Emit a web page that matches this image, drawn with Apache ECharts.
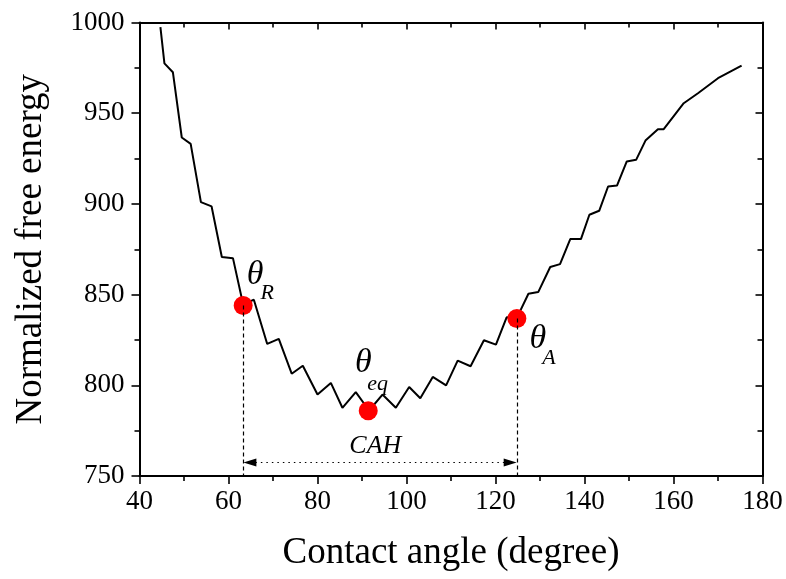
<!DOCTYPE html>
<html>
<head>
<meta charset="utf-8">
<script src="https://cdn.jsdelivr.net/npm/echarts@6/dist/echarts.min.js"></script>
<style>
  html, body { margin: 0; padding: 0; background: #fff; }
  #chart { width: 786px; height: 579px; }
</style>
</head>
<body>
<div id="chart"></div>
<script>
// Free-energy profile of a drop vs. contact angle
const angle = [
  44.7, 45.6, 47.5, 49.5, 51.5, 53.8, 56.2, 58.5, 61.0, 63.3,
  65.7, 68.7, 71.3, 74.2, 76.7, 80.0, 83.0, 85.6, 88.6, 91.6,
  94.6, 97.6, 100.6, 103.1, 105.9, 108.9, 111.5, 114.4, 117.4, 120.1,
  122.5, 124.8, 127.4, 129.6, 132.3, 134.5, 136.8, 139.2, 141.1, 143.3,
  145.3, 147.3, 149.5, 151.6, 153.7, 156.5, 157.8, 162.3, 165.5, 170.0,
  175.3
];
const energy = [
  997.4, 977.5, 972.6, 936.6, 933.1, 901.0, 898.6, 870.7, 870.1, 844.4,
  847.2, 822.8, 825.6, 806.4, 810.8, 794.9, 801.3, 787.6, 796.2, 786.1,
  794.9, 787.6, 799.1, 792.9, 804.6, 800.0, 813.6, 810.5, 824.8, 822.4,
  837.5, 837.2, 850.5, 851.4, 865.2, 866.8, 880.6, 880.6, 894.0, 896.2,
  909.6, 910.1, 923.4, 924.3, 934.9, 941.2, 941.2, 955.5, 961.0, 969.3,
  976.2
];

// Receding, equilibrium and advancing angles
const keyAngle = [63.3, 91.4, 124.8];
const keyEnergy = [844.0, 786.0, 836.8];
const keyName = ['R', 'eq', 'A'];

// Hysteresis arrow level
const cahLevel = 757.4;

// Axis ranges and tick steps
const xRange = [40, 180], xStep = 20;
const yRange = [750, 1000], yStep = 50;

const FONT = 'Liberation Serif, Times New Roman, serif';

const chart = echarts.init(document.getElementById('chart'), null, { renderer: 'canvas' });

const axisLineStyle = { color: '#000', width: 2 };
const tickStyle = { color: '#000', width: 1.6 };

function mirrorAxis(extra) {
  return Object.assign({
    type: 'value',
    axisLine: { show: true, onZero: false, lineStyle: axisLineStyle },
    axisTick: { show: true, inside: true, length: 7, lineStyle: tickStyle },
    minorTick: { show: true, splitNumber: 2, length: 5, lineStyle: tickStyle },
    axisLabel: { show: false },
    splitLine: { show: false },
    minorSplitLine: { show: false }
  }, extra);
}

const plainNum = v => String(v);

const option = {
  animation: false,
  backgroundColor: '#fff',
  grid: { left: 139.5, right: 23.5, top: 22.5, bottom: 103 },
  xAxis: [
    {
      type: 'value',
      position: 'bottom',
      min: xRange[0], max: xRange[1], interval: xStep,
      axisLine: { show: true, onZero: false, lineStyle: axisLineStyle },
      axisTick: { show: true, length: 8, lineStyle: tickStyle },
      minorTick: { show: true, splitNumber: 2, length: 5, lineStyle: tickStyle },
      splitLine: { show: false },
      minorSplitLine: { show: false },
      axisLabel: { color: '#000', fontFamily: FONT, fontSize: 27, margin: 12, formatter: plainNum },
      name: 'Contact angle (degree)',
      nameLocation: 'middle',
      nameGap: 59,
      nameTextStyle: { color: '#000', fontFamily: FONT, fontSize: 37 }
    },
    mirrorAxis({ position: 'top', min: xRange[0], max: xRange[1], interval: xStep })
  ],
  yAxis: [
    {
      type: 'value',
      position: 'left',
      min: yRange[0], max: yRange[1], interval: yStep,
      axisLine: { show: true, onZero: false, lineStyle: axisLineStyle },
      axisTick: { show: true, length: 8, lineStyle: tickStyle },
      minorTick: { show: true, splitNumber: 2, length: 5, lineStyle: tickStyle },
      splitLine: { show: false },
      minorSplitLine: { show: false },
      axisLabel: { color: '#000', fontFamily: FONT, fontSize: 27, margin: 15, formatter: plainNum },
      name: 'Normalized free energy',
      nameLocation: 'middle',
      nameGap: 90,
      nameTextStyle: { color: '#000', fontFamily: FONT, fontSize: 37 }
    },
    mirrorAxis({ position: 'right', min: yRange[0], max: yRange[1], interval: yStep })
  ],
  series: [
    {
      type: 'line',
      data: angle.map((a, i) => [a, energy[i]]),
      symbol: 'none',
      lineStyle: { color: '#000', width: 2 },
      z: 3
    },
    {
      // dashed drop lines from θR and θA to the axis
      type: 'line',
      data: [],
      markLine: {
        silent: true,
        symbol: ['none', 'none'],
        label: { show: false },
        lineStyle: { color: '#000', width: 1.2, type: [4, 3] },
        data: [
          [{ coord: [keyAngle[0], keyEnergy[0]] }, { coord: [keyAngle[0], yRange[0]] }],
          [{ coord: [keyAngle[2], keyEnergy[2]] }, { coord: [keyAngle[2], yRange[0]] }]
        ]
      },
      z: 2
    },
    {
      // double-headed CAH arrow
      type: 'line',
      data: [],
      markLine: {
        silent: true,
        symbol: ['triangle', 'triangle'],
        symbolSize: [8, 13],
        label: { show: false },
        lineStyle: { color: '#000', width: 1.2, type: [1.5, 4] },
        itemStyle: { color: '#000' },
        data: [
          [{ coord: [keyAngle[0] + 1.5, cahLevel] }, { coord: [keyAngle[2] - 1.5, cahLevel] }]
        ]
      },
      z: 2
    },
    {
      type: 'scatter',
      data: keyAngle.map((a, i) => [a, keyEnergy[i]]),
      symbol: 'circle',
      symbolSize: 19,
      itemStyle: { color: '#ff0000', opacity: 1 },
      z: 4
    }
  ]
};

chart.setOption(option);

// Annotation text anchored to data positions
const thetaPos = [[66.0, 861.0], [90.3, 812.0], [129.5, 825.7]];
const subPos = [[68.7, 850.5], [93.5, 800.4], [132.0, 815.2]];
const cahPos = [93.0, 766.3];

const graphics = [];
thetaPos.forEach((p, i) => {
  const tp = chart.convertToPixel({ gridIndex: 0 }, p);
  const sp = chart.convertToPixel({ gridIndex: 0 }, subPos[i]);
  graphics.push({
    type: 'text', x: tp[0], y: tp[1], z: 10,
    style: { text: 'θ', font: 'italic 34px ' + FONT, fill: '#000', align: 'center', verticalAlign: 'middle' }
  });
  graphics.push({
    type: 'text', x: sp[0], y: sp[1], z: 10,
    style: { text: keyName[i], font: 'italic 22px ' + FONT, fill: '#000', align: 'center', verticalAlign: 'middle' }
  });
});
const cp = chart.convertToPixel({ gridIndex: 0 }, cahPos);
graphics.push({
  type: 'text', x: cp[0], y: cp[1], z: 10,
  style: { text: 'CAH', font: 'italic 26px ' + FONT, fill: '#000', align: 'center', verticalAlign: 'middle' }
});
chart.setOption({ graphic: graphics });
</script>
</body>
</html>
